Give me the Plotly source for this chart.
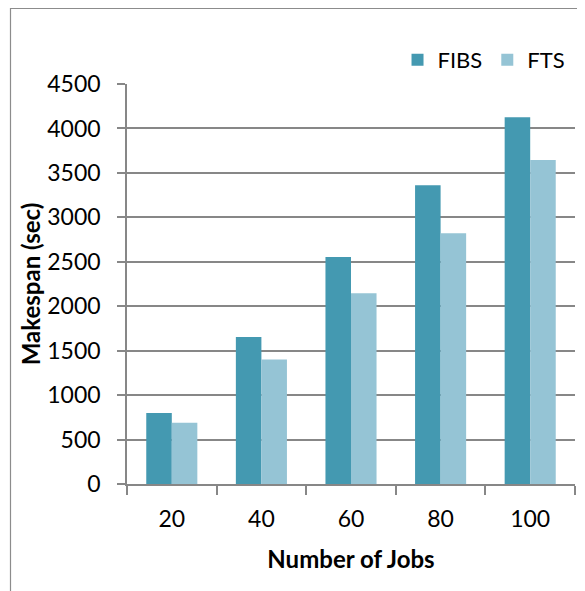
import plotly.graph_objects as go

categories = ["20", "40", "60", "80", "100"]
fibs = [800, 1655, 2555, 3360, 4125]
fts = [690, 1400, 2145, 2820, 3645]
y_ticks = [0, 500, 1000, 1500, 2000, 2500, 3000, 3500, 4000, 4500]

FONT = "Lato"
GRID = "#878787"

W, H = 577, 583
L, R, T, B = 119, 10, 76, 107
PW, PH = W - L - R, H - T - B

fig = go.Figure()
fig.add_trace(go.Bar(name="FIBS", x=categories, y=fibs, marker=dict(color="#4499b1", line=dict(width=0))))
fig.add_trace(go.Bar(name="FTS", x=categories, y=fts, marker=dict(color="#95c4d5", line=dict(width=0))))

fig.update_layout(
    width=W, height=H,
    margin=dict(l=L, r=R, t=T, b=B, autoexpand=False),
    paper_bgcolor="white", plot_bgcolor="white",
    barmode="group", bargap=0.43, bargroupgap=0,
    font=dict(family=FONT, size=23, color="#000000"),
    legend=dict(orientation="h", x=0.99, xanchor="right", y=1.06, yanchor="middle",
                font=dict(family=FONT, size=22), bgcolor="rgba(0,0,0,0)",
                itemwidth=30, tracegroupgap=0),
    showlegend=True,
    xaxis=dict(
        type="category", showline=True, linecolor=GRID, linewidth=1.6,
        ticks="outside", ticklen=9, tickcolor=GRID, tickwidth=1.6, tickson="boundaries",
        showgrid=False, ticklabelstandoff=14,
        tickfont=dict(family=FONT, size=23),
        title=dict(text="<b>Number of Jobs</b>", font=dict(family=FONT, size=24), standoff=20),
    ),
    yaxis=dict(
        range=[0, 4500], tickvals=y_ticks, ticktext=[str(v) for v in y_ticks],
        showline=True, linecolor=GRID, linewidth=1.6, zeroline=False,
        ticks="outside", ticklen=8, tickcolor=GRID, tickwidth=1.6,
        showgrid=True, gridcolor=GRID, gridwidth=1.6, ticklabelstandoff=12,
        tickfont=dict(family=FONT, size=23),
        title=dict(text="<b>Makespan (sec)</b>", font=dict(family=FONT, size=24), standoff=0),
    ),
    shapes=[dict(type="rect", xref="paper", yref="paper",
                 x0=(2.5 - L) / PW, x1=1.5, y0=-1.0, y1=(T + PH - 0.5) / PH,
                 line=dict(color="#8c8c8c", width=1.2), fillcolor="rgba(0,0,0,0)", layer="below")],
)

fig.write_html("out.html")
